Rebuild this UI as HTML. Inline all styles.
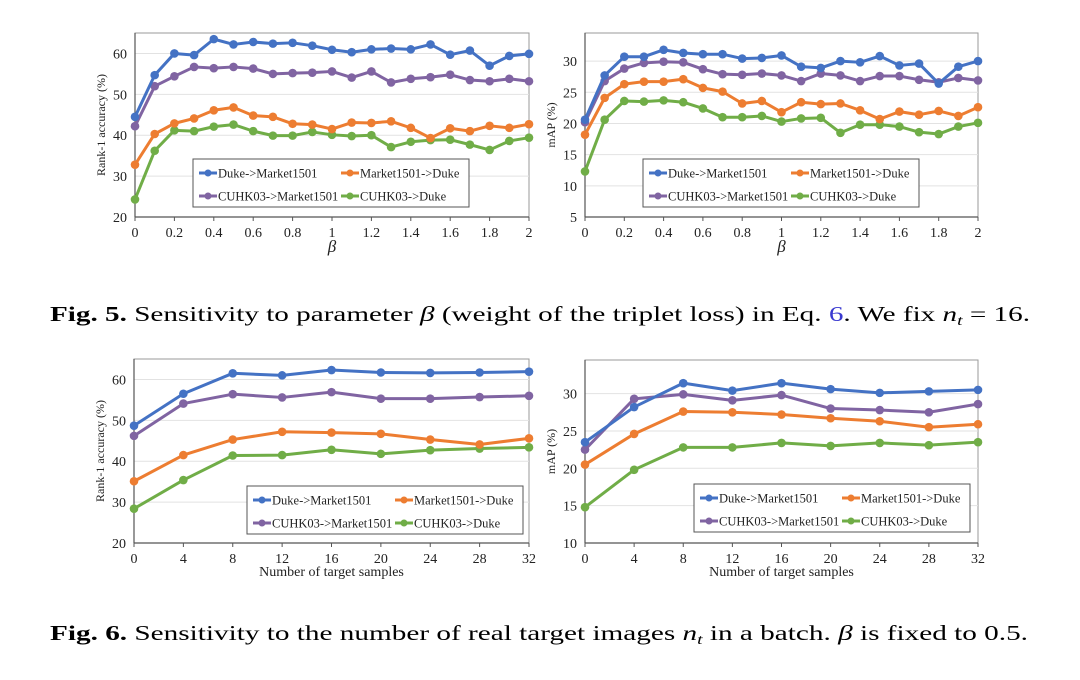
<!DOCTYPE html>
<html><head><meta charset="utf-8"><style>
body{margin:0;background:#fff;}
svg{display:block;font-family:"Liberation Serif",serif;}
</style></head><body>
<svg id="s" width="1080" height="680">
<text x="50" y="321" font-size="21" textLength="980" lengthAdjust="spacingAndGlyphs"><tspan font-weight="bold">Fig. 5.</tspan> Sensitivity to parameter <tspan font-style="italic">β</tspan> (weight of the triplet loss) in Eq. <tspan fill="#3a3ad0">6</tspan>. We fix <tspan font-style="italic">n</tspan><tspan font-size="14" dy="4" font-style="italic">t</tspan><tspan dy="-4"> = 16.</tspan></text>
<text x="50" y="640" font-size="21" textLength="978" lengthAdjust="spacingAndGlyphs"><tspan font-weight="bold">Fig. 6.</tspan> Sensitivity to the number of real target images <tspan font-style="italic">n</tspan><tspan font-size="14" dy="4" font-style="italic">t</tspan><tspan dy="-4"> in a batch. </tspan><tspan font-style="italic">β</tspan> is fixed to 0.5.</text>
</svg>
<script>
const betaCats=[0,0.1,0.2,0.3,0.4,0.5,0.6,0.7,0.8,0.9,1,1.1,1.2,1.3,1.4,1.5,1.6,1.7,1.8,1.9,2];
const betaTicks=["0","0.2","0.4","0.6","0.8","1","1.2","1.4","1.6","1.8","2"];
const nCats=[0,4,8,12,16,20,24,28,32];
const nTicks=["0","4","8","12","16","20","24","28","32"];
const seriesNames=["Duke->Market1501","Market1501->Duke","CUHK03->Market1501","CUHK03->Duke"];
const c1Blue=[44.5,54.7,60,59.6,63.5,62.2,62.8,62.4,62.6,61.9,60.9,60.3,61,61.2,61,62.2,59.7,60.7,57,59.4,59.9];
const c1Orange=[32.8,40.3,42.9,44.1,46.1,46.8,44.8,44.5,42.8,42.6,41.5,43.1,43,43.4,41.8,39.3,41.7,41,42.3,41.8,42.7];
const c1Purple=[42.2,52,54.4,56.7,56.4,56.7,56.3,55,55.2,55.3,55.6,54.1,55.6,52.9,53.8,54.2,54.8,53.5,53.2,53.8,53.2];
const c1Green=[24.3,36.2,41.2,41,42.1,42.6,41,39.9,39.9,40.8,40.1,39.8,40,37.1,38.4,38.8,38.9,37.7,36.4,38.6,39.4];
const c2Blue=[20.6,27.7,30.7,30.7,31.8,31.3,31.1,31.1,30.4,30.5,30.9,29.1,28.9,30.0,29.8,30.8,29.3,29.6,26.4,29.1,30.0];
const c2Orange=[18.2,24.1,26.3,26.7,26.7,27.1,25.7,25.1,23.2,23.6,21.8,23.4,23.1,23.2,22.1,20.7,21.9,21.4,22.0,21.2,22.6];
const c2Purple=[20.2,26.8,28.8,29.7,29.9,29.8,28.7,27.9,27.8,28.0,27.7,26.8,28.0,27.7,26.8,27.6,27.6,27.0,26.6,27.3,26.9];
const c2Green=[12.3,20.6,23.6,23.5,23.7,23.4,22.4,21.0,21.0,21.2,20.3,20.8,20.9,18.5,19.8,19.8,19.5,18.6,18.3,19.5,20.1];
const c3Blue=[48.7,56.5,61.5,61,62.3,61.7,61.6,61.7,61.9];
const c3Orange=[35.1,41.5,45.3,47.2,47,46.7,45.3,44.1,45.6];
const c3Purple=[46.2,54.1,56.4,55.6,56.9,55.3,55.3,55.7,56];
const c3Green=[28.4,35.4,41.4,41.5,42.8,41.8,42.7,43.1,43.4];
const c4Blue=[23.5,28.2,31.4,30.4,31.4,30.6,30.1,30.3,30.5];
const c4Orange=[20.5,24.6,27.6,27.5,27.2,26.7,26.3,25.5,25.9];
const c4Purple=[22.5,29.3,29.9,29.1,29.8,28,27.8,27.5,28.6];
const c4Green=[14.8,19.8,22.8,22.8,23.4,23,23.4,23.1,23.5];
const rankTicks=[20,30,40,50,60];
const mapTicks1=[5,10,15,20,25,30];
const mapTicks2=[10,15,20,25,30];

const colors=["#4472C4","#ED7D31","#8064A2","#70AD47"];
const NS="http://www.w3.org/2000/svg";
const svg=document.getElementById('s');
function mk(tag,attrs,parent,text){const e=document.createElementNS(NS,tag);for(const k in attrs)e.setAttribute(k,attrs[k]);if(text!==undefined)e.textContent=text;(parent||svg).appendChild(e);return e;}

function chart(id,box,cats,xmin,xmax,xTicks,ymin,ymax,yTicks,ytitle,xtitle,xItalic,data,legend){
  const g=mk('g',{});
  
  
  const X=v=>box.l+(v-xmin)/(xmax-xmin)*(box.r-box.l);
  const Y=v=>box.b-(v-ymin)/(ymax-ymin)*(box.b-box.t);
  mk('rect',{x:box.l,y:box.t,width:box.r-box.l,height:box.b-box.t,fill:'#fff',stroke:'#9a9a9a','stroke-width':1},g);
  yTicks.forEach(t=>{
    if(t!==ymin){const gl=mk('line',{x1:box.l,x2:box.r,y1:Y(t),y2:Y(t),stroke:'#e2e2e2','stroke-width':1},g);}
    const tl=mk('text',{x:box.l-8,y:Y(t)+5,'font-size':14,'text-anchor':'end',fill:'#222'},g,String(t));
    
  });
  mk('line',{x1:box.l,x2:box.l,y1:box.t,y2:box.b,stroke:'#555','stroke-width':1.2},g);
  mk('line',{x1:box.l,x2:box.r,y1:box.b,y2:box.b,stroke:'#555','stroke-width':1.2},g);
  xTicks.forEach(t=>{
    const v=parseFloat(t);
    mk('line',{x1:X(v),x2:X(v),y1:box.b,y2:box.b+4,stroke:'#555'},g);
    const tl=mk('text',{x:X(v),y:box.b+20,'font-size':14,'text-anchor':'middle',fill:'#222'},g,t);
    
  });
  const yt=mk('text',{transform:`translate(${box.l-30},${(box.t+box.b)/2}) rotate(-90)`,'font-size':12,'text-anchor':'middle',fill:'#222'},g,ytitle);
  
  const xt=mk('text',{x:(box.l+box.r)/2,y:box.b+(xItalic?35:33),'font-size':xItalic?17:14,'font-style':xItalic?'italic':'normal','text-anchor':'middle',fill:'#222'},g,xtitle);
  
  // legend
  const lg=mk('g',{},g);
  
  mk('rect',{x:legend.x,y:legend.y,width:276,height:48,fill:'#fff',stroke:'#555','stroke-width':1},lg);
  seriesNames.forEach((n,i)=>{
    const lx=legend.x+6+(i%2)*142, ly=legend.y+14+Math.floor(i/2)*23;
    const le=mk('g',{},lg);
    
    mk('line',{x1:lx,x2:lx+18,y1:ly,y2:ly,stroke:colors[i],'stroke-width':3},le);
    mk('circle',{cx:lx+9,cy:ly,r:3.5,fill:colors[i]},le);
    mk('text',{x:lx+19,y:ly+4.5,'font-size':12.5,fill:'#222'},le,n);
  });
  const order=[0,2,1,3];
  order.slice().reverse().forEach(i=>{
    const vals=data[i];
    const sg=mk('g',{},g);
    
    
    const pts=vals.map((v,j)=>X(cats[j])+','+Y(v)).join(' ');
    mk('polyline',{points:pts,fill:'none',stroke:colors[i],'stroke-width':3,'stroke-linejoin':'round'},sg);
    vals.forEach((v,j)=>{
      const c=mk('circle',{cx:X(cats[j]),cy:Y(v),r:4.3,fill:colors[i]},sg);
      
      
    });
  });
  // move legend on top
  g.appendChild(lg);
}
chart('chart-rank1-beta',{l:135,r:529,t:33,b:217},betaCats,0,2,betaTicks,20,65,rankTicks,'Rank-1 accuracy (%)','β',true,[c1Blue,c1Orange,c1Purple,c1Green],{x:193,y:159});
chart('chart-map-beta',{l:585,r:978,t:33,b:217},betaCats,0,2,betaTicks,5,34.5,mapTicks1,'mAP (%)','β',true,[c2Blue,c2Orange,c2Purple,c2Green],{x:643,y:159});
chart('chart-rank1-samples',{l:134,r:529,t:359,b:543},nCats,0,32,nTicks,20,65,rankTicks,'Rank-1 accuracy (%)','Number of target samples',false,[c3Blue,c3Orange,c3Purple,c3Green],{x:247,y:486});
chart('chart-map-samples',{l:585,r:978,t:360,b:543},nCats,0,32,nTicks,10,34.5,mapTicks2,'mAP (%)','Number of target samples',false,[c4Blue,c4Orange,c4Purple,c4Green],{x:694,y:484});
</script>
</body></html>
